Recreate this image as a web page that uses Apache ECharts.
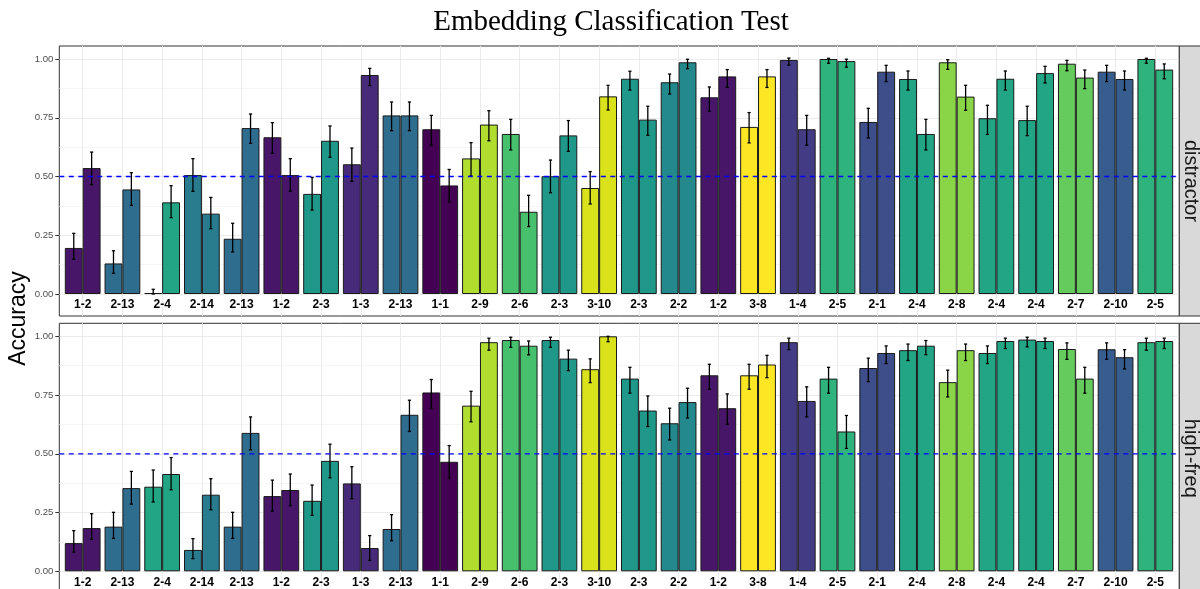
<!DOCTYPE html>
<html>
<head>
<meta charset="utf-8">
<script src="https://cdn.jsdelivr.net/npm/echarts@6/dist/echarts.min.js"></script>
<style>
html,body{margin:0;padding:0;background:#fff;}
#chart{width:1200px;height:589px;}
</style>
</head>
<body>
<div id="chart"></div>
<script>
// ---------- data ----------
const categories = ['1-2','2-13','2-4','2-14','2-13','1-2','2-3','1-3','2-13','1-1','2-9','2-6','2-3','3-10','2-3','2-2','1-2','3-8','1-4','2-5','2-1','2-4','2-8','2-4','2-4','2-7','2-10','2-5'];
const panels = ['distractor','high-freq'];
const yTicks = [0, 0.25, 0.5, 0.75, 1];
const chanceLevel = 0.5;

// distractor panel
const distA     = [0.196,0.130,0.004,0.506,0.235,0.667,0.426,0.552,0.760,0.701,0.577,0.681,0.501,0.451,0.916,0.901,0.837,0.711,0.996,1.000,0.732,0.915,0.986,0.748,0.740,0.980,0.946,1.000];
const distALow  = [0.148,0.088,0.000,0.437,0.179,0.599,0.357,0.479,0.695,0.633,0.502,0.613,0.431,0.383,0.868,0.851,0.777,0.643,0.974,0.982,0.664,0.868,0.956,0.679,0.674,0.950,0.904,0.982];
const distAHigh = [0.258,0.184,0.020,0.576,0.301,0.729,0.496,0.621,0.817,0.760,0.644,0.743,0.570,0.521,0.948,0.936,0.881,0.772,1.004,1.003,0.790,0.949,0.997,0.803,0.799,0.994,0.973,1.003];
const distB     = [0.536,0.445,0.390,0.342,0.706,0.506,0.652,0.932,0.760,0.462,0.721,0.350,0.675,0.841,0.742,0.986,0.926,0.926,0.701,0.991,0.946,0.681,0.840,0.916,0.940,0.921,0.915,0.955];
const distBLow  = [0.465,0.377,0.325,0.278,0.641,0.437,0.582,0.887,0.695,0.391,0.652,0.287,0.607,0.783,0.675,0.959,0.879,0.879,0.633,0.965,0.904,0.613,0.782,0.868,0.898,0.874,0.868,0.916];
const distBHigh = [0.604,0.516,0.461,0.411,0.766,0.576,0.715,0.960,0.817,0.530,0.780,0.420,0.738,0.888,0.799,0.999,0.955,0.955,0.760,0.999,0.973,0.743,0.888,0.949,0.969,0.953,0.949,0.979];

// high-freq panel
const hfA     = [0.120,0.190,0.360,0.091,0.190,0.320,0.300,0.374,0.180,0.761,0.705,0.984,0.984,0.860,0.820,0.630,0.834,0.834,0.975,0.820,0.865,0.941,0.805,0.929,0.986,0.946,0.945,0.975];
const hfALow  = [0.082,0.140,0.295,0.054,0.140,0.256,0.238,0.309,0.130,0.694,0.636,0.953,0.953,0.803,0.758,0.559,0.775,0.775,0.943,0.758,0.807,0.897,0.742,0.884,0.955,0.902,0.902,0.941];
const hfAHigh = [0.173,0.251,0.431,0.139,0.251,0.388,0.367,0.445,0.241,0.816,0.766,0.996,0.996,0.904,0.868,0.694,0.881,0.881,0.992,0.868,0.907,0.967,0.856,0.959,0.996,0.972,0.972,0.992];
const hfB     = [0.184,0.354,0.414,0.326,0.589,0.346,0.470,0.099,0.666,0.466,0.975,0.960,0.905,1.000,0.684,0.720,0.694,0.880,0.725,0.595,0.929,0.960,0.941,0.980,0.980,0.820,0.911,0.980];
const hfBLow  = [0.136,0.286,0.347,0.262,0.517,0.279,0.398,0.047,0.595,0.395,0.941,0.921,0.854,0.977,0.616,0.652,0.626,0.824,0.657,0.523,0.884,0.922,0.897,0.948,0.948,0.758,0.861,0.948];
const hfBHigh = [0.245,0.425,0.484,0.394,0.657,0.414,0.541,0.152,0.728,0.535,0.992,0.980,0.941,1.000,0.746,0.779,0.755,0.919,0.785,0.663,0.959,0.982,0.967,0.992,0.992,0.868,0.943,0.992];

// fill levels (viridis over sorted label levels)
const levels  = ['1-1','1-2','1-3','1-4','2-1','2-10','2-13','2-14','2-2','2-3','2-4','2-5','2-6','2-7','2-8','2-9','3-10','3-8'];
const palette = ['#440154','#481668','#472A79','#433C84','#3D4E8A','#365D8D','#2F6D8E','#297B8E','#23898D','#1F988A','#21A585','#2EB37C','#47C06E','#66CB5D','#8AD547','#B1DD2E','#D9E21A','#FDE725'];

// ---------- layout ----------
const SANS = 'Liberation Sans, Arial, sans-serif';
const panelLeft = 59.3, panelRightGap = 20.7, panelH = 270;
const panelTops = [46, 323.3];
const dataLeft = 82.7, dataRightGap = 44.7;
const padTop = 13, unitH = 235;
const yMinC = -(panelH - padTop - unitH) / unitH;
const yMaxC = 1 + padTop / unitH;

const panelData = [
  {a: distA, aL: distALow, aH: distAHigh, b: distB, bL: distBLow, bH: distBHigh},
  {a: hfA, aL: hfALow, aH: hfAHigh, b: hfB, bL: hfBLow, bH: hfBHigh}
];

function colorOf(lbl){ return palette[levels.indexOf(lbl)]; }

const grid = [], xAxis = [], yAxis = [], series = [], graphic = [];

panelData.forEach((pd, p) => {
  const top = panelTops[p];
  const gA = 3*p, gB = 3*p+1, gC = 3*p+2;
  const common = {outerBoundsMode: 'none', containLabel: false};
  grid.push(Object.assign({left: panelLeft, width: 1120, top: top, height: panelH, show: true, borderColor: '#333333', borderWidth: 1, backgroundColor: 'transparent'}, common));
  grid.push(Object.assign({left: panelLeft, width: 1120, top: top + padTop, height: unitH}, common));
  grid.push(Object.assign({left: dataLeft, width: 1072.6, top: top, height: panelH}, common));

  xAxis.push({gridIndex: gA, type: 'value', min: 0, max: 1, show: false});
  xAxis.push({gridIndex: gB, type: 'value', min: 0, max: 1, show: false});
  xAxis.push({
    gridIndex: gC, type: 'category', data: categories, boundaryGap: false,
    axisLine: {show: false}, axisTick: {show: false},
    splitLine: {show: true, lineStyle: {color: '#EBEBEB', width: 1}},
    axisLabel: {inside: true, margin: 11, verticalAlign: 'middle', interval: 0,
      fontWeight: 'bold', fontSize: 12, color: '#000', fontFamily: SANS}
  });

  yAxis.push({gridIndex: gA, type: 'value', min: 0, max: 1, show: false});
  yAxis.push({
    gridIndex: gB, type: 'value', min: yTicks[0], max: yTicks[yTicks.length-1], interval: yTicks[1]-yTicks[0],
    axisLine: {show: false},
    axisTick: {show: true, length: 4, lineStyle: {color: '#333333', width: 1}},
    axisLabel: {formatter: v => v.toFixed(2), color: '#4D4D4D', fontSize: 9.6, margin: 6, fontFamily: SANS},
    splitLine: {show: true, lineStyle: {color: '#EBEBEB', width: 1}},
    minorTick: {show: false, splitNumber: 2},
    minorSplitLine: {show: true, lineStyle: {color: '#F2F2F2', width: 0.8}}
  });
  yAxis.push({gridIndex: gC, type: 'value', min: yMinC, max: yMaxC, show: false});

  const mkBar = (vals) => ({
    type: 'bar', xAxisIndex: gC, yAxisIndex: gC,
    barWidth: '45%', barGap: '0%', z: 2, silent: true,
    itemStyle: {borderColor: '#1A1A1A', borderWidth: 1},
    data: vals.map((v, i) => ({value: v, itemStyle: {color: colorOf(categories[i])}}))
  });
  series.push(mkBar(pd.a));
  series.push(mkBar(pd.b));

  const errData = [];
  categories.forEach((c, i) => {
    errData.push([i, pd.aL[i], pd.aH[i], -1]);
    errData.push([i, pd.bL[i], pd.bH[i], 1]);
  });
  series.push({
    type: 'custom', xAxisIndex: gC, yAxisIndex: gC, z: 3, silent: true,
    data: errData,
    renderItem: function(params, api){
      const lo = api.coord([api.value(0), api.value(1)]);
      const hi = api.coord([api.value(0), api.value(2)]);
      const bw = api.size([1, 0])[0];
      const x = lo[0] + api.value(3) * bw * 0.225;
      const cap = 1.6;
      const st = {stroke: '#000', lineWidth: 1.3};
      return {type: 'group', children: [
        {type: 'line', shape: {x1: x, y1: lo[1], x2: x, y2: hi[1]}, style: st},
        {type: 'line', shape: {x1: x-cap, y1: lo[1], x2: x+cap, y2: lo[1]}, style: st},
        {type: 'line', shape: {x1: x-cap, y1: hi[1], x2: x+cap, y2: hi[1]}, style: st}
      ]};
    }
  });

  series.push({
    type: 'line', xAxisIndex: gB, yAxisIndex: gB, z: 5, silent: true,
    showSymbol: false, symbol: 'none',
    lineStyle: {color: '#0000FF', width: 1.3, type: [5, 4.5]},
    data: [[0, chanceLevel], [1, chanceLevel]]
  });

  // facet strip
  graphic.push({type: 'rect', shape: {x: 1179.3, y: top, width: 30, height: panelH},
    style: {fill: '#D9D9D9', stroke: '#333333', lineWidth: 1}, z: 10});
  graphic.push({type: 'text', x: 1190.5, y: top + panelH/2, rotation: -Math.PI/2,
    style: {text: panels[p], fill: '#1A1A1A', font: '20px ' + SANS, align: 'center', verticalAlign: 'middle'}, z: 11});
});

graphic.push({type: 'text', x: 611, y: 22,
  style: {text: 'Embedding Classification Test', fill: '#000', font: '29px "Liberation Serif", "Times New Roman", serif', align: 'center', verticalAlign: 'middle'}});
graphic.push({type: 'text', x: 18.5, y: 318.5, rotation: Math.PI/2,
  style: {text: 'Accuracy', fill: '#000', font: '23px ' + SANS, align: 'center', verticalAlign: 'middle'}});

const chart = echarts.init(document.getElementById('chart'), null, {renderer: 'canvas'});
chart.setOption({
  animation: false,
  backgroundColor: '#ffffff',
  grid, xAxis, yAxis, series, graphic
});
</script>
</body>
</html>
